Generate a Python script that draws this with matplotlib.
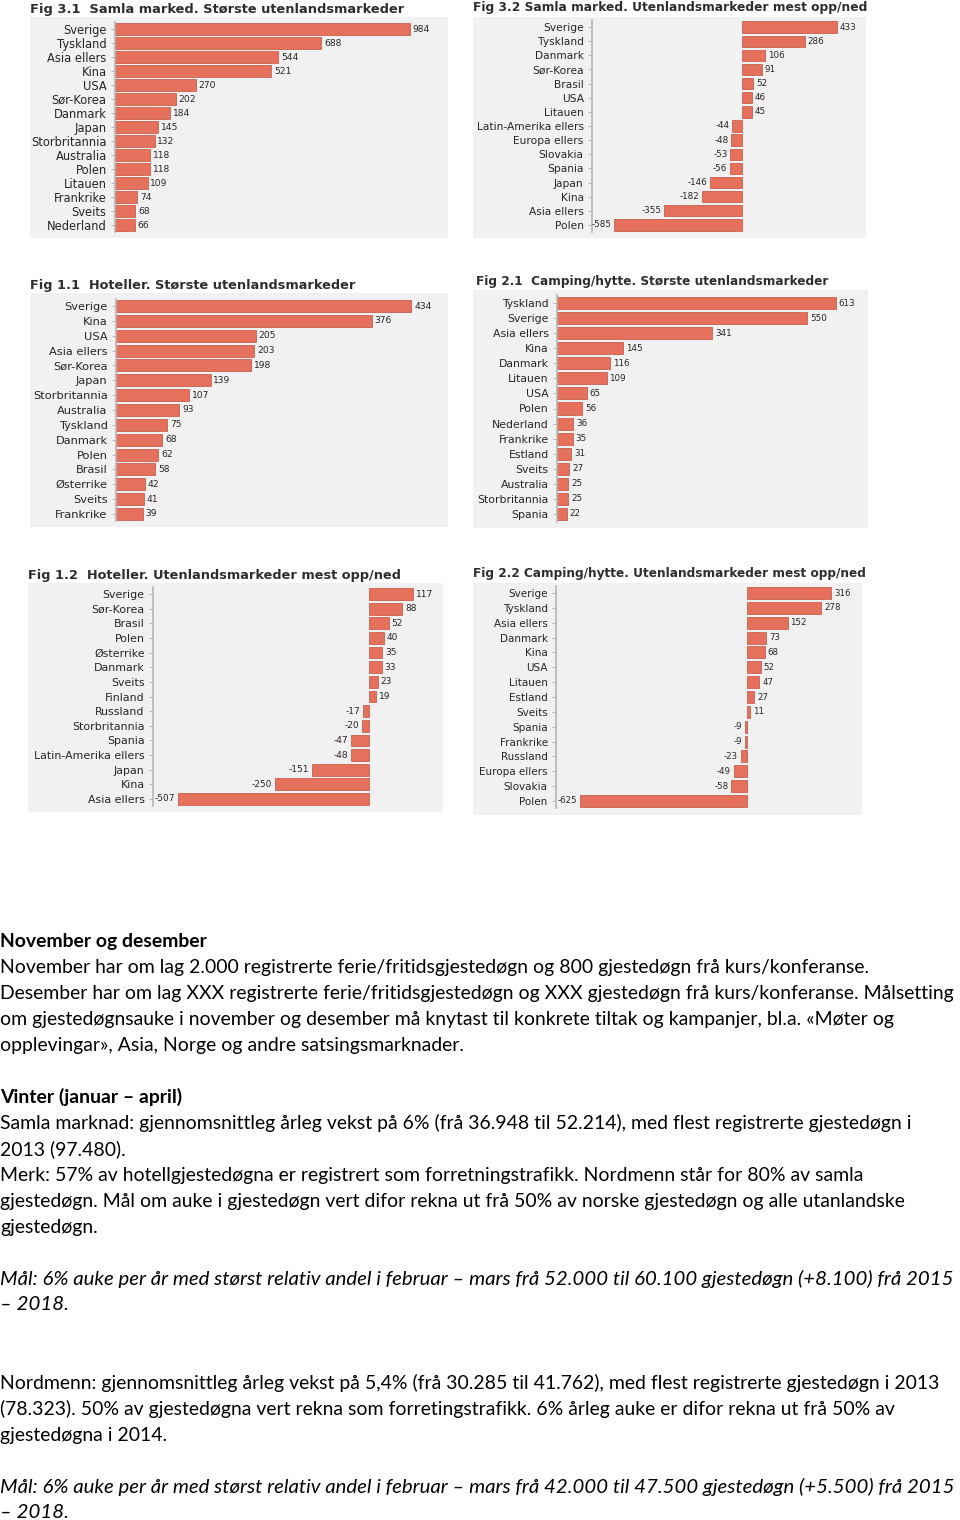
import matplotlib
matplotlib.use("Agg")
import matplotlib.pyplot as plt
from matplotlib.patches import Rectangle

W, H = 960, 1520

# ---------------- data ----------------
t31 = "Fig 3.1  Samla marked. Største utenlandsmarkeder"
c31 = ["Sverige", "Tyskland", "Asia ellers", "Kina", "USA", "Sør-Korea", "Danmark", "Japan",
       "Storbritannia", "Australia", "Polen", "Litauen", "Frankrike", "Sveits", "Nederland"]
v31 = [984, 688, 544, 521, 270, 202, 184, 145, 132, 118, 118, 109, 74, 68, 66]

t32 = "Fig 3.2 Samla marked. Utenlandsmarkeder mest opp/ned"
c32 = ["Sverige", "Tyskland", "Danmark", "Sør-Korea", "Brasil", "USA", "Litauen",
       "Latin-Amerika ellers", "Europa ellers", "Slovakia", "Spania", "Japan", "Kina",
       "Asia ellers", "Polen"]
v32 = [433, 286, 106, 91, 52, 46, 45, -44, -48, -53, -56, -146, -182, -355, -585]

t11 = "Fig 1.1  Hoteller. Største utenlandsmarkeder"
c11 = ["Sverige", "Kina", "USA", "Asia ellers", "Sør-Korea", "Japan", "Storbritannia",
       "Australia", "Tyskland", "Danmark", "Polen", "Brasil", "Østerrike", "Sveits", "Frankrike"]
v11 = [434, 376, 205, 203, 198, 139, 107, 93, 75, 68, 62, 58, 42, 41, 39]

t21 = "Fig 2.1  Camping/hytte. Største utenlandsmarkeder"
c21 = ["Tyskland", "Sverige", "Asia ellers", "Kina", "Danmark", "Litauen", "USA", "Polen",
       "Nederland", "Frankrike", "Estland", "Sveits", "Australia", "Storbritannia", "Spania"]
v21 = [613, 550, 341, 145, 116, 109, 65, 56, 36, 35, 31, 27, 25, 25, 22]

t12 = "Fig 1.2  Hoteller. Utenlandsmarkeder mest opp/ned"
c12 = ["Sverige", "Sør-Korea", "Brasil", "Polen", "Østerrike", "Danmark", "Sveits", "Finland",
       "Russland", "Storbritannia", "Spania", "Latin-Amerika ellers", "Japan", "Kina", "Asia ellers"]
v12 = [117, 88, 52, 40, 35, 33, 23, 19, -17, -20, -47, -48, -151, -250, -507]

t22 = "Fig 2.2 Camping/hytte. Utenlandsmarkeder mest opp/ned"
c22 = ["Sverige", "Tyskland", "Asia ellers", "Danmark", "Kina", "USA", "Litauen", "Estland",
       "Sveits", "Spania", "Frankrike", "Russland", "Europa ellers", "Slovakia", "Polen"]
v22 = [316, 278, 152, 73, 68, 52, 47, 27, 11, -9, -9, -23, -49, -58, -625]

text_lines = [
    ("November og desember", "bold"),
    ("November har om lag 2.000 registrerte ferie/fritidsgjestedøgn og 800 gjestedøgn frå kurs/konferanse.", "normal"),
    ("Desember har om lag XXX registrerte ferie/fritidsgjestedøgn og XXX gjestedøgn frå kurs/konferanse. Målsetting", "normal"),
    ("om gjestedøgnsauke i november og desember må knytast til konkrete tiltak og kampanjer, bl.a. «Møter og", "normal"),
    ("opplevingar», Asia, Norge og andre satsingsmarknader.", "normal"),
    ("Vinter (januar – april)", "bold"),
    ("Samla marknad: gjennomsnittleg årleg vekst på 6% (frå 36.948 til 52.214), med flest registrerte gjestedøgn i", "normal"),
    ("2013 (97.480).", "normal"),
    ("Merk: 57% av hotellgjestedøgna er registrert som forretningstrafikk. Nordmenn står for 80% av samla", "normal"),
    ("gjestedøgn. Mål om auke i gjestedøgn vert difor rekna ut frå 50% av norske gjestedøgn og alle utanlandske", "normal"),
    ("gjestedøgn.", "normal"),
    ("Mål: 6% auke per år med størst relativ andel i februar – mars frå 52.000 til 60.100 gjestedøgn (+8.100) frå 2015", "italic"),
    ("– 2018.", "italic"),
    ("Nordmenn: gjennomsnittleg årleg vekst på 5,4% (frå 30.285 til 41.762), med flest registrerte gjestedøgn i 2013", "normal"),
    ("(78.323). 50% av gjestedøgna vert rekna som forretingstrafikk. 6% årleg auke er difor rekna ut frå 50% av", "normal"),
    ("gjestedøgna i 2014.", "normal"),
    ("Mål: 6% auke per år med størst relativ andel i februar – mars frå 42.000 til 47.500 gjestedøgn (+5.500) frå 2015", "italic"),
    ("– 2018.", "italic"),
]
text_y = [941, 967, 993, 1019, 1045, 1097, 1123, 1149, 1175, 1201, 1227,
          1279, 1305, 1383, 1409, 1435, 1487, 1513]

# ---------------- layout ----------------
# title(x,y), bg(x0,y0,x1,y1), axes(x0,x1,ytop,ybot), xlim, (title size, label size, value size)
panels = [
    (t31, c31, v31, (30, 9), (30, 17, 448, 238), (115, 440, 22, 232), (0, 1084), (9.35, 8.3, 6.6)),
    (t32, c32, v32, (473, 8), (473, 17, 866, 238), (592, 860, 20, 232), (-685, 539), (8.8, 7.7, 6.3)),
    (t11, c11, v11, (30, 285), (30, 293, 448, 527), (116, 440, 298.6, 521.4), (0, 476), (9.3, 8.2, 6.6)),
    (t21, c21, v21, (476, 282), (473, 290, 868, 528), (557, 860, 295.5, 521.5), (0, 666), (8.78, 7.8, 6.3)),
    (t12, c12, v12, (28, 575), (28, 583, 443, 812), (153, 440, 586.7, 806.3), (-573, 188), (9.27, 7.9, 6.5)),
    (t22, c22, v22, (473, 574), (473, 583, 862, 815), (556, 858, 585.6, 808.4), (-715, 416), (8.72, 7.5, 6.2)),
]

BAR = "#e5705c"
EDGE = "#c24f3e"
BG = "#f1f1f1"
TXT = "#262626"

fig = plt.figure(figsize=(W / 100, H / 100), dpi=100)
fig.patch.set_facecolor("white")


def fx(x):
    return x / W


def fy(y):
    return 1 - y / H


for title, cats, vals, tpos, bg, ax_px, xl, sizes in panels:
    ts, ls, vs = sizes
    bx0, by0, bx1, by1 = bg
    fig.patches.append(Rectangle((fx(bx0), fy(by1)), fx(bx1) - fx(bx0), fy(by0) - fy(by1),
                                 transform=fig.transFigure, facecolor=BG, edgecolor="none",
                                 zorder=-5))
    fig.text(fx(tpos[0]), fy(tpos[1]), title, fontsize=ts, fontweight="bold",
             color="#2e2e2e", ha="left", va="center", family="DejaVu Sans")
    x0, x1, yt, yb = ax_px
    ax = fig.add_axes([fx(x0), fy(yb), fx(x1) - fx(x0), fy(yt) - fy(yb)])
    ax.set_zorder(2)
    ax.patch.set_alpha(0)
    n = len(cats)
    pos = list(range(n))
    ax.barh(pos, vals, height=0.8, color=BAR, edgecolor=EDGE, linewidth=0.5, zorder=2)
    ax.set_xlim(*xl)
    ax.set_ylim(n - 0.5, -0.5)
    ax.set_yticks(pos)
    ax.set_yticklabels(cats, fontsize=ls, color=TXT, family="DejaVu Sans")
    ax.tick_params(axis="y", length=3, width=0.6, color="#b0b0b0", pad=3)
    ax.set_xticks([])
    for s in ["top", "right", "bottom"]:
        ax.spines[s].set_visible(False)
    ax.spines["left"].set_color("#b5b5b5")
    ax.spines["left"].set_linewidth(1.2)
    for p, v in zip(pos, vals):
        if v >= 0:
            ax.annotate(f"{v}", (v, p), xytext=(2, 0), textcoords="offset points",
                        ha="left", va="center", fontsize=vs, color=TXT)
        else:
            ax.annotate(f"{v}", (v, p), xytext=(-2, 0), textcoords="offset points",
                        ha="right", va="center", fontsize=vs, color=TXT)

# ---------------- text block ----------------
FAM = "Lato"
renderer = fig.canvas.get_renderer()
probe = fig.text(0, 0, text_lines[2][0], fontsize=14, family=FAM)
wpx = probe.get_window_extent(renderer).width
probe.remove()
fsize = 14 * 957 / wpx
probe = fig.text(0, 0, text_lines[11][0], fontsize=14, family=FAM, style="italic")
wpx_i = probe.get_window_extent(renderer).width
probe.remove()
fsize_i = 14 * 957 / wpx_i

for (line, style), y in zip(text_lines, text_y):
    kw = dict(fontsize=fsize, family=FAM, color="black", ha="left", va="center")
    if style == "bold":
        kw["fontweight"] = "bold"
    elif style == "italic":
        kw["style"] = "italic"
        kw["fontsize"] = fsize_i
    fig.text(fx(0.5), fy(y), line, **kw)

fig.savefig("out.png", dpi=100, facecolor="white")
